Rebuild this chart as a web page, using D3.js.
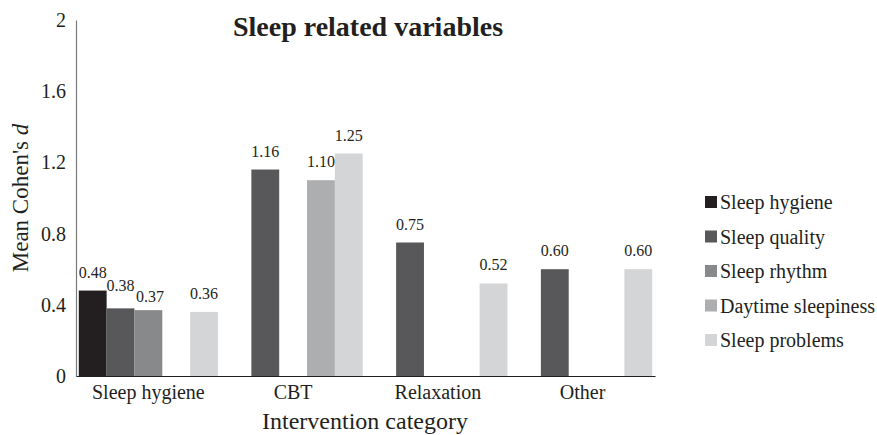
<!DOCTYPE html>
<html>
<head>
<meta charset="utf-8">
<script src="https://cdn.jsdelivr.net/npm/d3@7"></script>
<style>
  html, body { margin: 0; padding: 0; background: #fff; }
  svg { display: block; }
  svg text { font-family: "Liberation Serif", "Times New Roman", serif !important; fill: #231f20; }
</style>
</head>
<body>
<svg id="chart" width="877" height="435"></svg>
<script>
// Intervention categories along the x axis
const categories = ["Sleep hygiene", "CBT", "Relaxation", "Other"];

// Outcome series (one bar per series inside each category); null = no study
const seriesNames = ["Sleep hygiene", "Sleep quality", "Sleep rhythm", "Daytime sleepiness", "Sleep problems"];
const sleepHygiene      = [0.48, null, null, null];
const sleepQuality      = [0.38, 1.16, 0.75, 0.60];
const sleepRhythm       = [0.37, null, null, null];
const daytimeSleepiness = [null, 1.10, null, null];
const sleepProblems     = [0.36, 1.25, 0.52, 0.60];
const seriesValues = [sleepHygiene, sleepQuality, sleepRhythm, daytimeSleepiness, sleepProblems];

const seriesColors = ["#231f20", "#58585a", "#88898b", "#adaeb0", "#d4d5d7"];
const yTicks = [0, 0.4, 0.8, 1.2, 1.6, 2];

const svg = d3.select("#chart");
const margin = { left: 76, right: 222, top: 20, bottom: 59 };
const W = 877, H = 435;

const x = d3.scaleBand().domain(categories).range([margin.left, W - margin.right]).paddingInner(0).paddingOuter(0);
const xs = d3.scaleBand().domain(seriesNames).range([0, x.bandwidth()]).paddingOuter(0.1).paddingInner(0);
const y = d3.scaleLinear().domain([0, 2]).range([H - margin.bottom, margin.top]);

// Bars
const bars = [];
categories.forEach((c, ci) => {
  seriesNames.forEach((s, si) => {
    const v = seriesValues[si][ci];
    if (v !== null) bars.push({ c, s, si, v });
  });
});

svg.append("g").selectAll("rect").data(bars).join("rect")
  .attr("x", d => x(d.c) + xs(d.s))
  .attr("width", xs.bandwidth())
  .attr("y", d => y(d.v))
  .attr("height", d => y(0) - y(d.v))
  .attr("fill", d => seriesColors[d.si]);

// Value labels; two crowded labels in the first group are nudged to avoid overlap
const nudge = { "Sleep hygiene|Sleep quality": [0, -4], "Sleep hygiene|Sleep rhythm": [1.5, 5] };
const off = d => nudge[d.c + "|" + d.s] || [0, 0];
svg.append("g").selectAll("text").data(bars).join("text")
  .attr("x", d => x(d.c) + xs(d.s) + xs.bandwidth() / 2 + off(d)[0])
  .attr("y", d => y(d.v) - 13 + off(d)[1])
  .attr("text-anchor", "middle")
  .style("font-size", "16px")
  .text(d => d.v.toFixed(2));

// Y axis
const yAxis = d3.axisLeft(y).tickValues(yTicks).tickSize(0).tickPadding(10)
  .tickFormat(d => d === 0 ? "0" : d === 2 ? "2" : d3.format(".1f")(d));
const gy = svg.append("g").attr("transform", `translate(${margin.left},0)`).call(yAxis);
gy.select(".domain").attr("stroke", "#7a7a7a").attr("stroke-width", 1.2);
gy.selectAll("text").style("font-size", "20px");

// X axis
const xAxis = d3.axisBottom(x).tickSize(0).tickPadding(9);
const gx = svg.append("g").attr("transform", `translate(0,${y(0)})`).call(xAxis);
gx.select(".domain").attr("stroke", "#231f20").attr("stroke-width", 1.2);
gx.selectAll("text").style("font-size", "20px");

// Title
svg.append("text").attr("x", 368).attr("y", 36).attr("text-anchor", "middle")
  .style("font-size", "28px").style("font-weight", "bold")
  .text("Sleep related variables");

// Axis titles
svg.append("text").attr("x", 365).attr("y", 429).attr("text-anchor", "middle")
  .style("font-size", "24px").text("Intervention category");

const yt = svg.append("text")
  .attr("transform", `translate(28,${(margin.top + H - margin.bottom) / 2}) rotate(-90)`)
  .attr("text-anchor", "middle").style("font-size", "23px");
yt.append("tspan").text("Mean Cohen's ");
yt.append("tspan").style("font-style", "italic").text("d");

// Legend
const legend = svg.append("g").attr("transform", "translate(705,202)");
const li = legend.selectAll("g").data(seriesNames).join("g")
  .attr("transform", (d, i) => `translate(0,${i * 34.5})`);
li.append("rect").attr("x", 0).attr("y", -6).attr("width", 12).attr("height", 12)
  .attr("fill", (d, i) => seriesColors[i]);
li.append("text").attr("x", 15).attr("y", 7).style("font-size", "20px").text(d => d);
</script>
</body>
</html>
